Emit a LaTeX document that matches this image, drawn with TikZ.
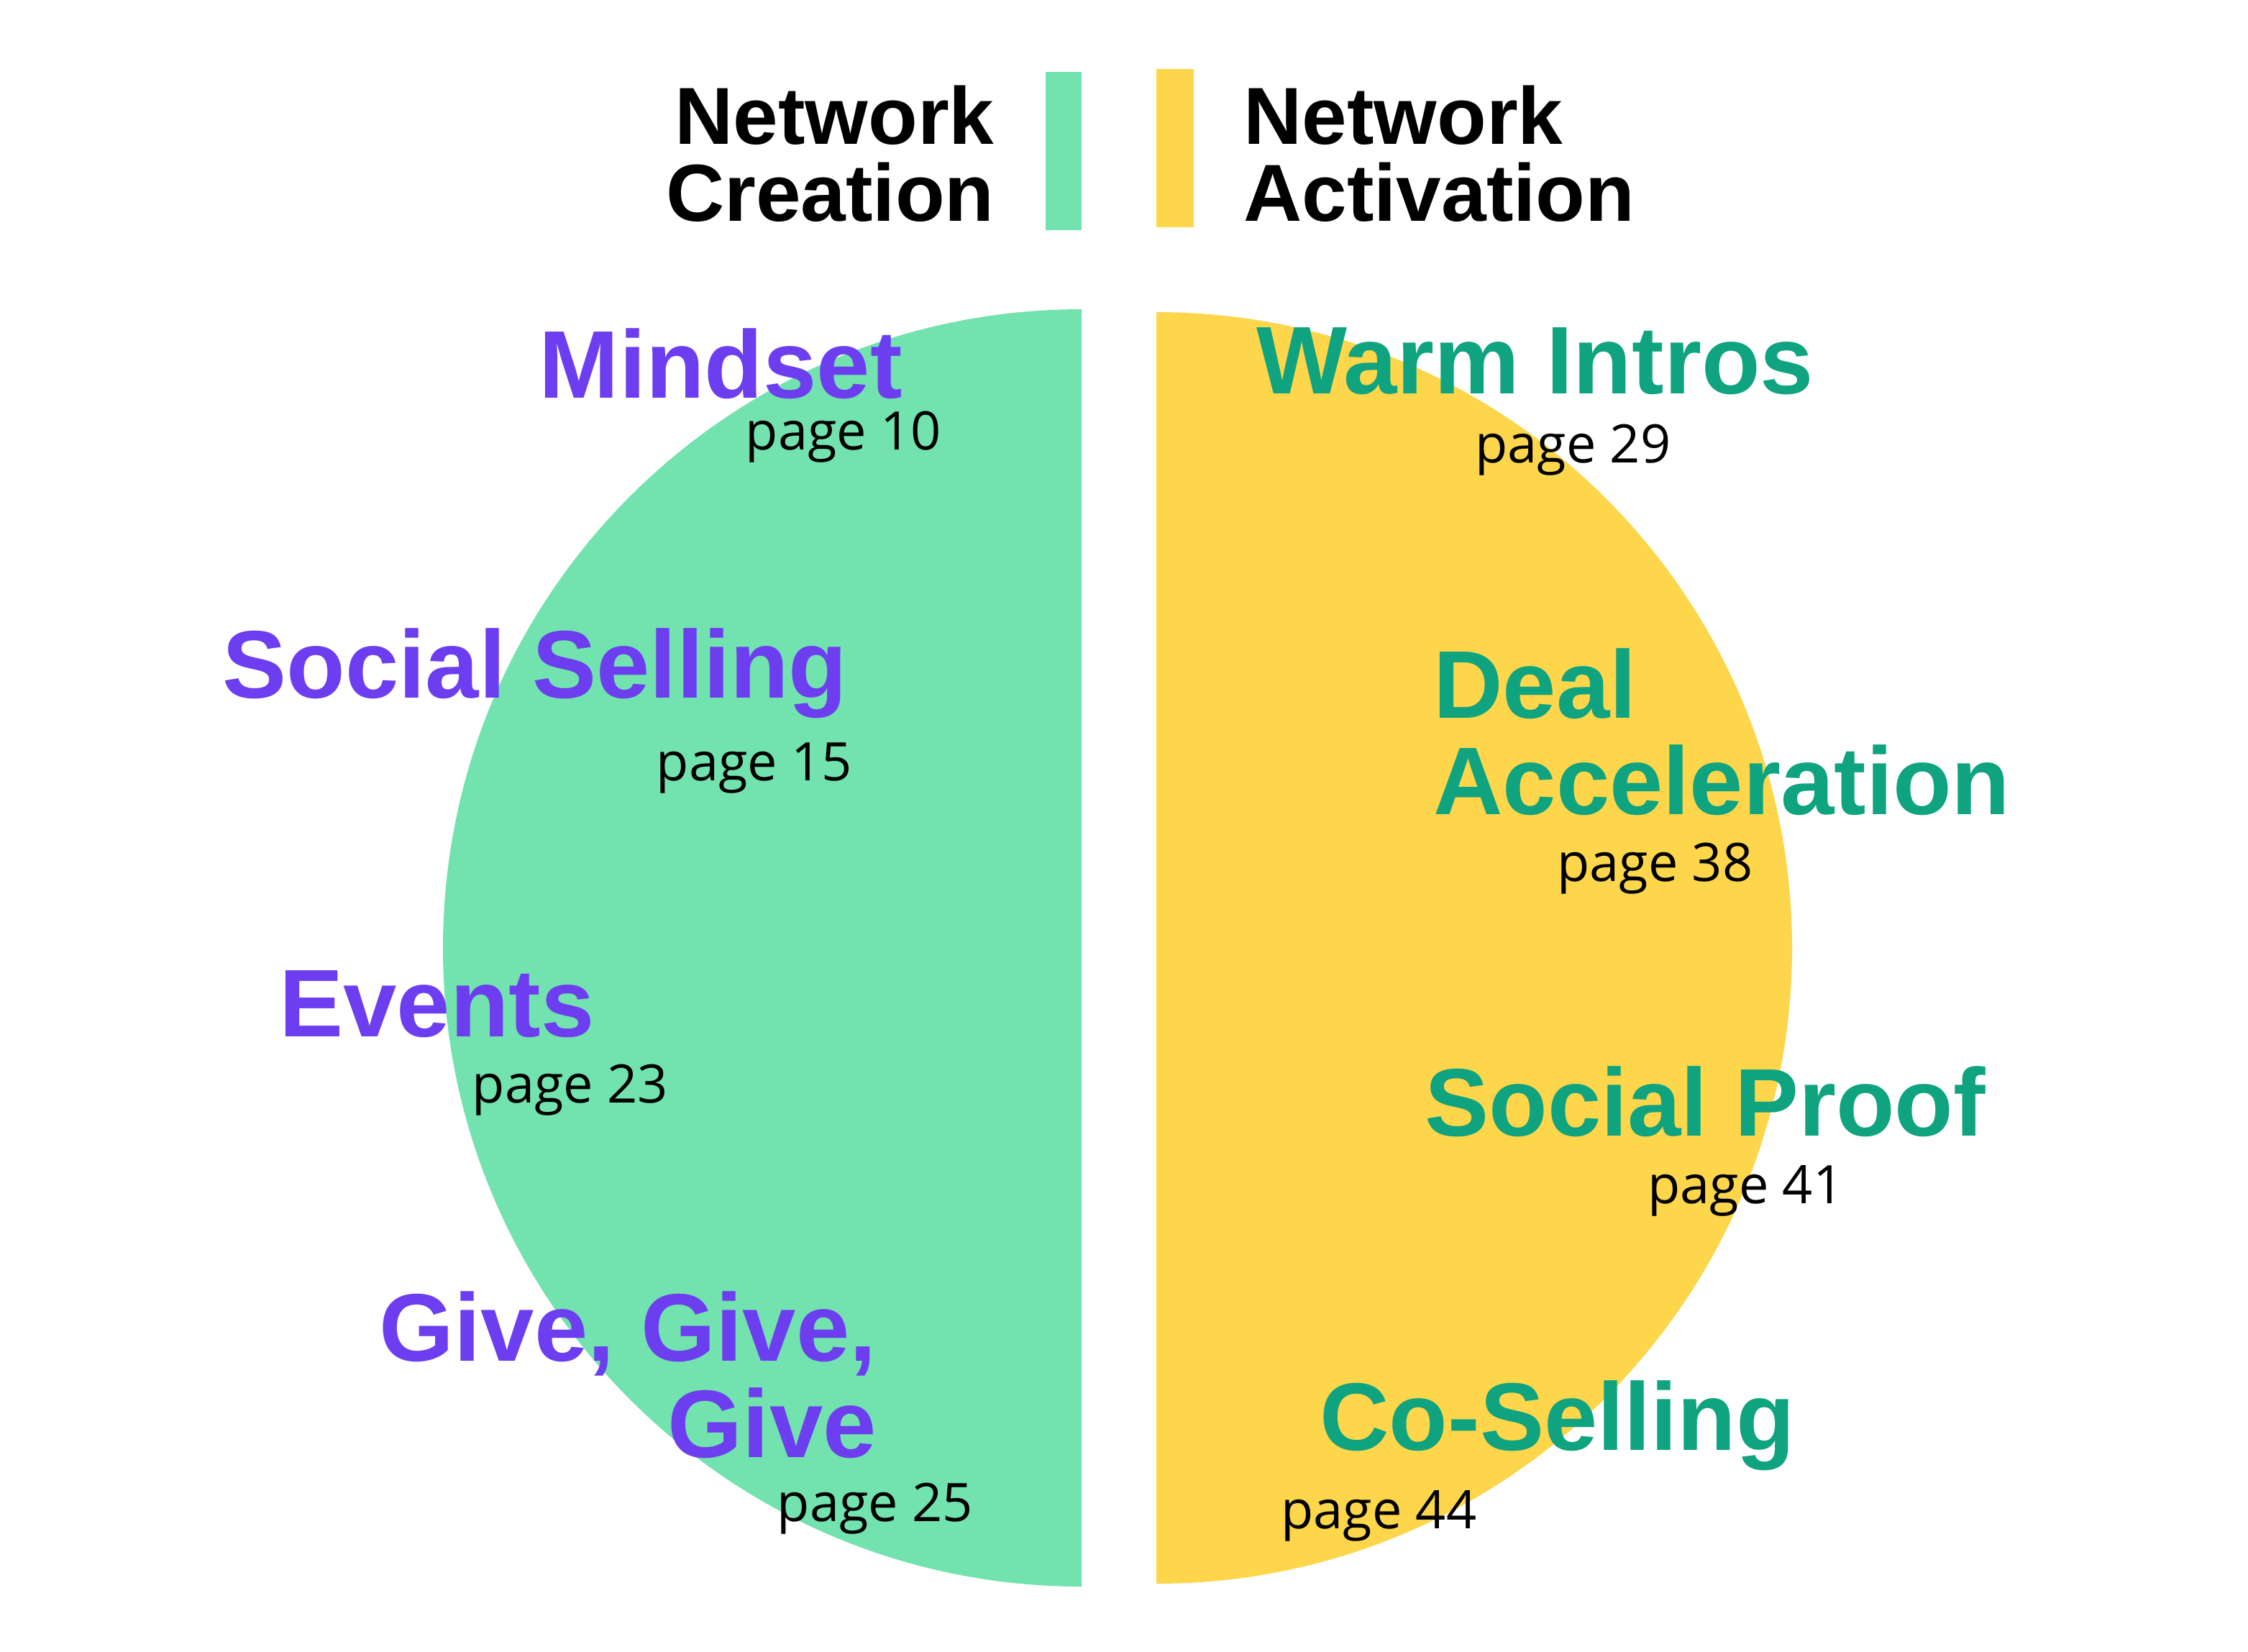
\documentclass[tikz,border=0pt]{standalone}
\usepackage{fontspec}
\setmainfont{Liberation Sans}
\newfontfamily\pagefont{Open Sans}
\definecolor{cgreen}{HTML}{72E2AE}
\definecolor{cyellow}{HTML}{FDD64B}
\definecolor{cpurple}{HTML}{6C3EF0}
\definecolor{cteal}{HTML}{0FA37F}
\begin{document}
\begin{tikzpicture}[x=0.01cm,y=-0.01cm,
  head/.style={font=\fontsize{19}{19}\selectfont\bfseries, inner sep=0pt},
  lh/.style={head,text=cpurple},
  rh/.style={head,text=cteal},
  pg/.style={font=\pagefont\fontsize{10.5}{12}\selectfont, inner sep=0pt},
  leg/.style={font=\fontsize{16}{15.2}\selectfont\bfseries, inner sep=0pt}]
\useasboundingbox (0,0) rectangle (1563,1148);
\fill[cgreen] (752,215) arc[start angle=-90,end angle=-270,radius=444] -- cycle;
\fill[cyellow] (804,217) arc[start angle=-90,end angle=90,radius=442] -- cycle;
\fill[cgreen] (727,50) rectangle (752,160);
\fill[cyellow] (804,48) rectangle (830,158);
\node[leg,anchor=east,align=right] (lc) at (692,107) {Network\\Creation};
\node[leg,anchor=west,align=left] (la) at (864,107) {Network\\Activation};
\node[lh,anchor=east] (m) at (628,253) {Mindset};
\node[pg,anchor=east] (p10) at (655,304) {page 10};
\node[lh,anchor=east] (ss) at (590,468) {Social Selling};
\node[pg,anchor=east] (p15) at (593,534) {page 15};
\node[lh,anchor=east] (ev) at (414,698) {Events};
\node[pg,anchor=east] (p23) at (465,758) {page 23};
\node[lh,anchor=east,align=right] (gg) at (610,956) {Give, Give,\\Give};
\node[pg,anchor=east] (p25) at (677,1049) {page 25};
\node[rh,anchor=west] (wi) at (873,251) {Warm Intros};
\node[pg,anchor=west] (p29) at (1025,313) {page 29};
\node[rh,anchor=west,align=left] (da) at (996,509) {Deal\\Acceleration};
\node[pg,anchor=west] (p38) at (1082,604) {page 38};
\node[rh,anchor=west] (sp) at (990,766) {Social Proof};
\node[pg,anchor=west] (p41) at (1145,828) {page 41};
\node[rh,anchor=west] (cs) at (917,991) {Co-Selling};
\node[pg,anchor=west] (p44) at (890,1054) {page 44};
\end{tikzpicture}
\end{document}
